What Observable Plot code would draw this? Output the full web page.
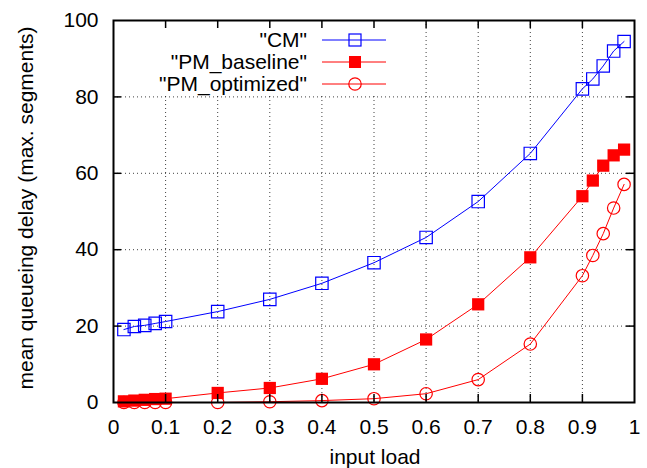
<!DOCTYPE html>
<html><head><meta charset="utf-8">
<script src="https://cdn.jsdelivr.net/npm/d3@7"></script>
<script src="https://cdn.jsdelivr.net/npm/@observablehq/plot@0.6"></script>
<style>
body{margin:0;background:#fff;font-family:"Liberation Sans",Arial,sans-serif}
#wrap{position:relative;width:647px;height:468px}
#legend{position:absolute;left:0;top:0;pointer-events:none}
</style></head><body><div id="wrap"></div>
<script>
const load = [0.02,0.04,0.06,0.08,0.1,0.2,0.3,0.4,0.5,0.6,0.7,0.8,0.9,0.92,0.94,0.96,0.98];
const cm = [19.1,19.9,20.2,20.7,21.2,23.8,27.0,31.2,36.6,43.2,52.6,65.2,82.1,84.7,88.1,92.0,94.5];
const pmBaseline = [0.3,0.5,0.7,0.9,1.0,2.5,3.8,6.2,10.0,16.5,25.7,38.0,54.0,58.1,62.0,64.7,66.2];
const pmOptimized = [0,0,0,0,0,0,0.2,0.5,1.0,2.3,6.0,15.3,33.2,38.5,44.2,50.9,57.1];
const seriesNames = ['"CM"','"PM_baseline"','"PM_optimized"'];
const xTicks = [0,0.1,0.2,0.3,0.4,0.5,0.6,0.7,0.8,0.9,1];
const xTickLabels = ["0","0.1","0.2","0.3","0.4","0.5","0.6","0.7","0.8","0.9","1"];
const yTicks = [0,20,40,60,80,100];
const yTickLabels = ["0","20","40","60","80","100"];
const xTitle = "input load";
const yTitle = "mean queueing delay (max. segments)";

const W = 647, H = 468, ML = 113, MR = 13, MT = 20, MB = 66;
const FW = W - ML - MR, FH = H - MT - MB;
const FS = 21;
const FONT = "'Liberation Sans', Arial, sans-serif";
const innerX = xTicks.filter(v => v > 0 && v < 1);
const innerY = yTicks.filter(v => v > 0 && v < 100);
const rows = load.map((x, i) => ({x, cm: cm[i], base: pmBaseline[i], opt: pmOptimized[i]}));

const gridStyle = {stroke: "#000", strokeOpacity: 0.75, strokeWidth: 1, strokeDasharray: "1,3"};
const tickStyle = {stroke: "#000", strokeWidth: 1.5};

const chart = Plot.plot({
  width: W, height: H,
  marginLeft: ML, marginRight: MR, marginTop: MT, marginBottom: MB,
  style: {fontFamily: FONT, fontSize: FS + "px", background: "#fff"},
  x: {domain: [0, 1]},
  y: {domain: [0, 100]},
  marks: [
    Plot.gridX(innerX, {x: d => d, ...gridStyle}),
    Plot.gridY(innerY, {y: d => d, ...gridStyle}),
    Plot.frame({fill: "#fff", stroke: null, insetLeft: 1, insetTop: 1, insetRight: 244, insetBottom: 309}),
    Plot.line(rows, {x: "x", y: "cm", stroke: "#0000ff", strokeWidth: 1}),
    Plot.line(rows, {x: "x", y: "base", stroke: "#ff0000", strokeWidth: 1}),
    Plot.line(rows, {x: "x", y: "opt", stroke: "#ff0000", strokeWidth: 1}),
    Plot.dot(rows, {x: "x", y: "cm", symbol: "square", r: 7, stroke: "#0000ff", strokeWidth: 1.2, fill: "none"}),
    Plot.dot(rows, {x: "x", y: "base", symbol: "square", r: 6.9, fill: "#ff0000", stroke: "none"}),
    Plot.dot(rows, {x: "x", y: "opt", symbol: "circle", r: 6.2, stroke: "#ff0000", strokeWidth: 1.2, fill: "none"}),
    Plot.tickX(innerX, {x: d => d, ...tickStyle, insetTop: FH - 8}),
    Plot.tickX(innerX, {x: d => d, ...tickStyle, insetBottom: FH - 8}),
    Plot.tickY(innerY, {y: d => d, ...tickStyle, insetRight: FW - 8}),
    Plot.tickY(innerY, {y: d => d, ...tickStyle, insetLeft: FW - 8}),
    Plot.frame({stroke: "#000", strokeWidth: 2}),
    Plot.axisX({ticks: xTicks, tickSize: 0, tickPadding: 17, tickFormat: d => xTickLabels[xTicks.indexOf(d)], label: null, fontSize: FS, fill: "#000"}),
    Plot.axisY({ticks: yTicks, tickSize: 0, tickPadding: 15, tickFormat: d => yTickLabels[yTicks.indexOf(d)], label: null, fontSize: FS, fill: "#000"}),
    Plot.text([xTitle], {text: d => d, frameAnchor: "bottom", textAnchor: "middle", lineAnchor: "middle", dx: 1, dy: 55, fontSize: FS, fill: "#000"}),
    Plot.text([yTitle], {text: d => d, frameAnchor: "left", textAnchor: "middle", lineAnchor: "middle", dx: -87, dy: -3.5, rotate: -90, fontSize: FS, fill: "#000"})
  ]
});
document.getElementById("wrap").appendChild(chart);

// Legend (overlay, top-left inside plot)
const legendItems = [
  {name: seriesNames[0], color: "#0000ff", symbol: "square", fill: false},
  {name: seriesNames[1], color: "#ff0000", symbol: "square", fill: true},
  {name: seriesNames[2], color: "#ff0000", symbol: "circle", fill: false}
];
const lg = d3.select("#wrap").append("svg").attr("id", "legend").attr("width", W).attr("height", 110);
legendItems.forEach((it, i) => {
  const cy = 40 + i * 22;
  lg.append("text").attr("x", 307).attr("y", cy).attr("dy", "0.35em").attr("text-anchor", "end")
    .attr("font-family", FONT).attr("font-size", FS).attr("fill", "#000").text(it.name);
  lg.append("line").attr("x1", 322).attr("x2", 386).attr("y1", cy).attr("y2", cy).attr("stroke", it.color).attr("stroke-width", 1);
  if (it.symbol === "square") {
    lg.append("rect").attr("x", 355 - 6).attr("y", cy - 6).attr("width", 12).attr("height", 12)
      .attr("fill", it.fill ? it.color : "none").attr("stroke", it.fill ? "none" : it.color).attr("stroke-width", 1.2);
  } else {
    lg.append("circle").attr("cx", 355).attr("cy", cy).attr("r", 6.2).attr("fill", "none").attr("stroke", it.color).attr("stroke-width", 1.2);
  }
});
</script></body></html>
